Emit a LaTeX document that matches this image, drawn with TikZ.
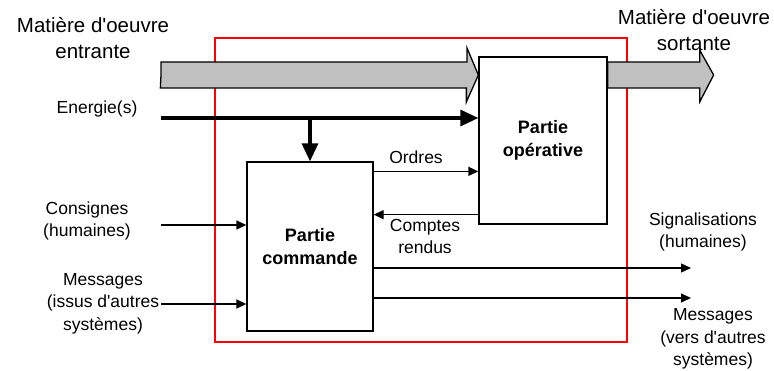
\documentclass[tikz,border=0pt]{standalone}
\usepackage{fontspec}
\setmainfont{Liberation Sans}
\usepackage{tikz}
\usetikzlibrary{arrows.meta}
\usetikzlibrary{positioning}
\definecolor{flux}{RGB}{192,192,192}
\newcommand{\apos}{\textquotesingle}

\begin{document}
\begin{tikzpicture}[x=1pt, y=-1pt]
\tikzset{bloc/.style={draw, line width=1.3pt, align=center, font=\fontsize{18}{23}\selectfont\bfseries},
 lbl/.style={align=center, inner sep=0pt, font=\fontsize{17.5}{22.5}\selectfont},
 grand/.style={align=center, inner sep=0pt, font=\fontsize{20.5}{26}\selectfont},
 fleche/.style={line width=1.3pt, -{Triangle[length=10pt,width=9pt]}},
 gros/.style={line width=3.3pt, -{Triangle[length=18pt,width=16pt]}},
 matiere/.style={fill=flux, draw, line width=1.3pt, line join=miter}}
\useasboundingbox (0,0) rectangle (774,371);
 \draw [color=red][line width=1.3pt] (215,38) rectangle (627,342);
 \node[bloc, minimum width=128pt, minimum height=167pt] (PO) at (543,140.5) {Partie\\opérative};
 \node[bloc, minimum width=126pt, minimum height=169pt] (PC) at (310,246.5) {Partie\\commande};
 \coordinate (mo) at (161,75);
 \coordinate (en) at (161,118);
 \coordinate (cons) at (161,225);
 \coordinate (msgin) at (161,304);
 \coordinate (sig) at (691,268);
 \coordinate (msgout) at (691,298);
 \filldraw[matiere] (mo) -- ++(0,-13) -- ++(306,0) -- ++(0,-14) -- (mo -| PO.west) -- ++(-12,27) -- ++(0,-14) -- ++(-306,0) -- cycle;
 \filldraw[matiere] (mo -| PO.east) -- ++(0,-13) -- ++(92,0) -- ++(0,-12) -- ++(14,25) -- ++(-14,27) -- ++(0,-14) -- ++(-92,0) -- cycle;
 \draw[gros] (en) -- (en -| PO.west);
 \draw[gros] (en -| PC.north) -- (PC.north);
 \draw[fleche] ([yshift=-10pt]PC.north east) -- ([yshift=-10pt]PC.north east -| PO.west);
 \draw[fleche] ([yshift=10pt]PO.south west) -- ([yshift=10pt]PO.south west -| PC.east);
 \draw[fleche] (cons) -- (cons -| PC.west);
 \draw[fleche] (msgin) -- (msgin -| PC.west);
 \draw[fleche] (sig -| PC.east) -- (sig);
 \draw[fleche] (msgout -| PC.east) -- (msgout);
 \node[grand] (entree) at (93,38.5) {Matière d\apos oeuvre\\entrante};
 \node[grand] (sortie) at (694,30.5) {Matière d\apos oeuvre\\sortante};
 \node[lbl] (energie) at (97,109) {Energie(s)};
 \node[lbl] (consignes) at (87,221) {Consignes\\(humaines)};
 \node[lbl] (messin) at (103,303.5) {Messages\\(issus d\apos autres\\systèmes)};
 \node[lbl] (ordres) at (416,157) {Ordres};
 \node[lbl] (comptes) at (425,236.5) {Comptes\\rendus};
 \node[lbl] (signal) at (703,232) {Signalisations\\(humaines)};
 \node[lbl] (messout) at (713,339) {Messages\\(vers d\apos autres\\systèmes)};
\end{tikzpicture}
\end{document}
